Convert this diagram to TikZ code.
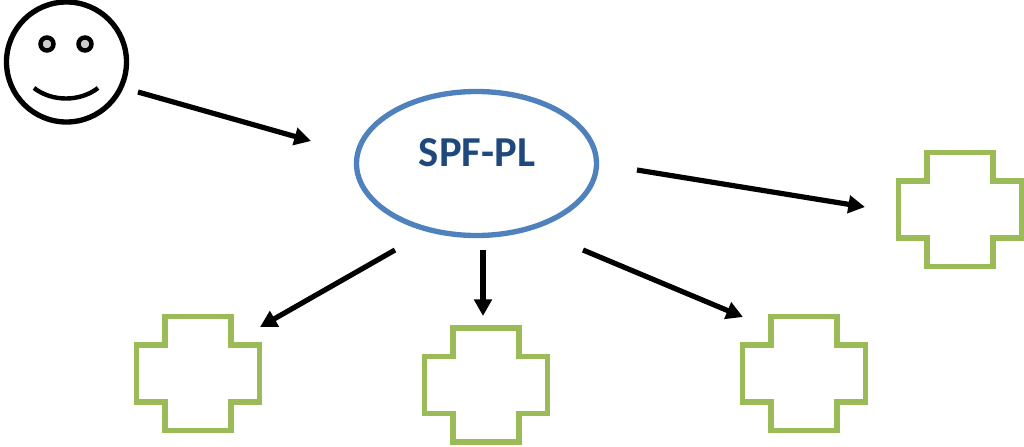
\documentclass[tikz,border=0pt]{standalone}
\usepackage{fontspec}
\setmainfont{Carlito}
\usetikzlibrary{arrows.meta,shapes.geometric}
\definecolor{blueline}{HTML}{4F81BD}
\definecolor{bluetext}{HTML}{1F497D}
\definecolor{greenline}{HTML}{9BBB59}
\tikzset{
  x=0.75pt,y=-0.75pt,
  facestroke/.style={draw=black,line width=4pt},
  eyeshape/.style={circle,draw=black,fill=black!20,line width=3.3pt,minimum size=9.8pt,inner sep=0pt,outer sep=0pt},
  conn/.style={draw=black,line width=3.9pt,-{Triangle[length=12.5pt,width=13pt]}},
  plusline/.style={draw=greenline,line width=4pt,miter limit=10},
  anchorbox/.style={inner sep=0pt,outer sep=0pt,minimum width=92pt,minimum height=85pt},
}
\newcommand{\plusnode}[3]{%
  \node[anchorbox] (#1) at (#2,#3) {};
  \draw[plusline] ([shift={(-33,-56.5)}]#1.center) -- ++(66,0) -- ++(0,28.5) -- ++(28.5,0) -- ++(0,57) -- ++(-28.5,0) -- ++(0,28.5) -- ++(-66,0) -- ++(0,-28.5) -- ++(-28.5,0) -- ++(0,-57) -- ++(28.5,0) -- cycle;
}
\begin{document}
\begin{tikzpicture}
\useasboundingbox (0,0) rectangle (1024,446);
% face
\node[circle,facestroke,minimum size=90pt,inner sep=0pt,outer sep=0pt] (face) at (66.5,62) {};
\node[eyeshape] (eyeL) at (47,44) {};
\node[eyeshape] (eyeR) at (85,44) {};
\coordinate (smileL) at (34,88);
\coordinate (smileR) at (98,88);
\draw[draw=black,line width=3.3pt] (smileL) .. controls (52,102) and (80,102) .. (smileR);
% central ellipse
\node[ellipse,draw=blueline,line width=4pt,minimum width=180pt,minimum height=108pt,inner sep=0pt,outer sep=0pt,
  text=bluetext,font=\fontsize{32}{36}\selectfont\bfseries] (spf) at (476.5,163.5) {\raisebox{16.5pt}{\kern0.7pt SPF-PL}};
% crosses
\plusnode{crossA}{198}{373}
\plusnode{crossB}{486}{384.5}
\plusnode{crossC}{804}{373}
\plusnode{crossD}{960}{209}
% connectors
\draw[conn] ([shift={(71.5,30)}]face.center) -- ([shift={(-165.5,-22.5)}]spf.center);
\draw[conn] ([shift={(160.5,6.5)}]spf.center) -- ([shift={(-95,-2)}]crossD.center);
\draw[conn] ([shift={(-81.5,86.5)}]spf.center) -- ([shift={(62,-46)}]crossA.center);
\draw[conn] ([shift={(6.5,86.5)}]spf.center) -- ([shift={(-3,-68.5)}]crossB.center);
\draw[conn] ([shift={(106.5,86.5)}]spf.center) -- ([shift={(-61,-56)}]crossC.center);
\end{tikzpicture}
\end{document}
